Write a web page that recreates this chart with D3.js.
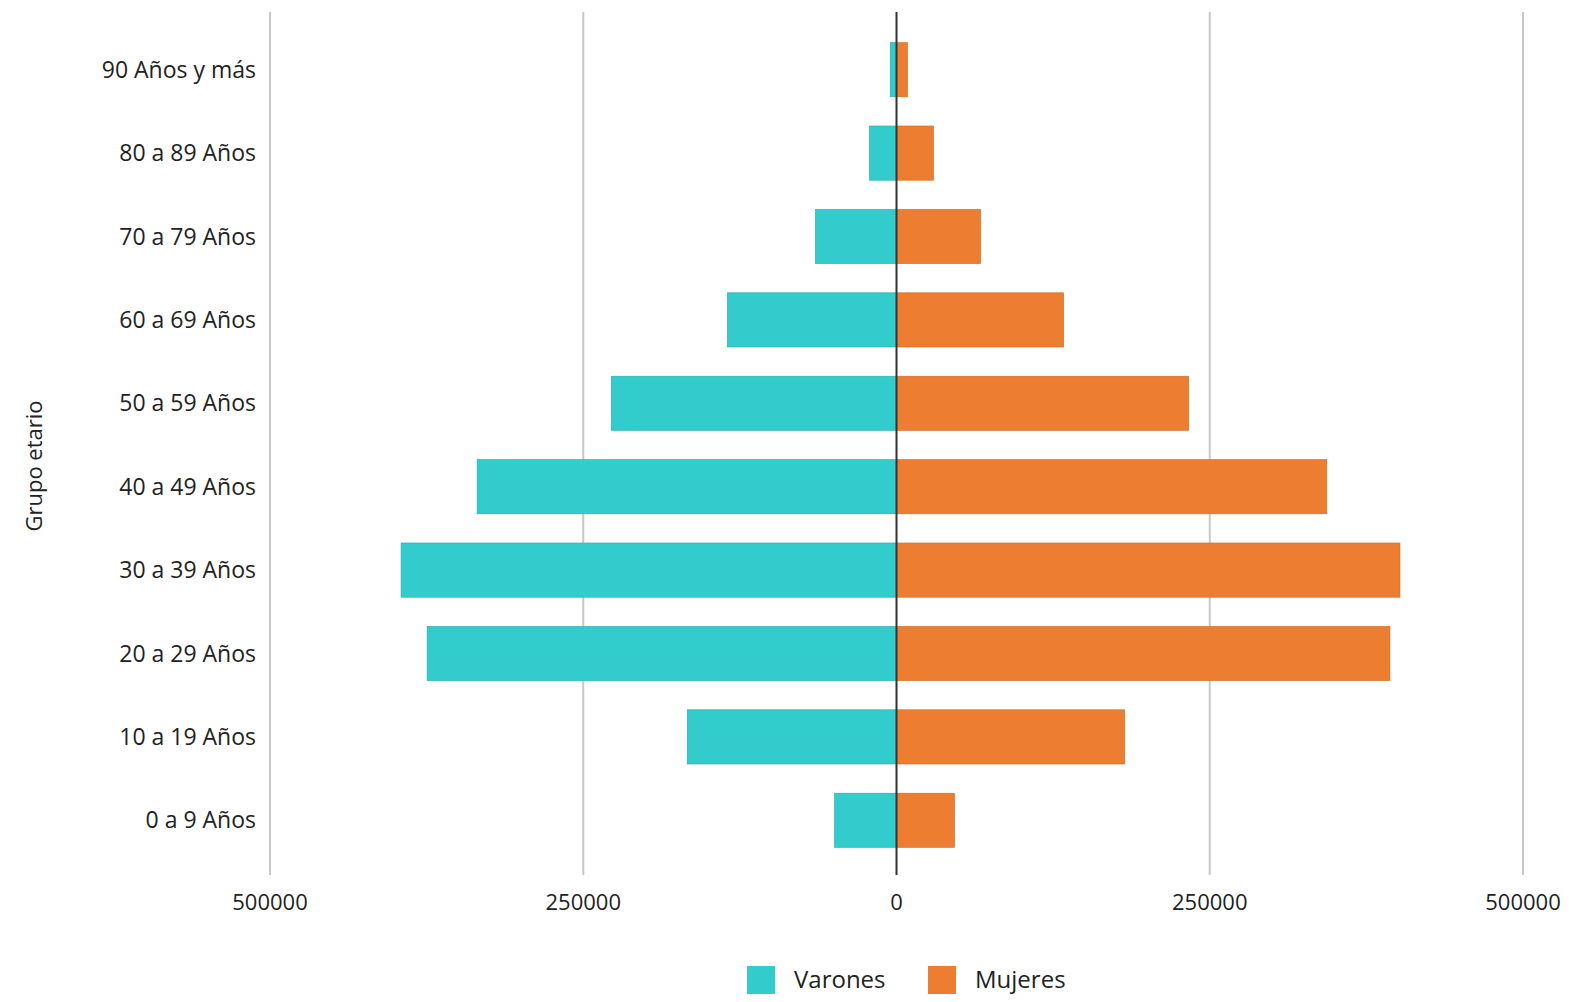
<!DOCTYPE html>
<html>
<head>
<meta charset="utf-8">
<script src="https://cdn.jsdelivr.net/npm/d3@7"></script>
<style>
  body { margin: 0; background: #fff; }
  text { font-family: "Open Sans", Lato, sans-serif; fill: #222; }
</style>
</head>
<body>
<div id="root"></div>
<script>
const groups = ['90 Años y más', '80 a 89 Años', '70 a 79 Años', '60 a 69 Años', '50 a 59 Años',
  '40 a 49 Años', '30 a 39 Años', '20 a 29 Años', '10 a 19 Años', '0 a 9 Años'];
const varones = [5000, 21600, 64700, 135000, 227600, 334700, 395400, 374600, 167000, 49500];
const mujeres = [8800, 29600, 67100, 133400, 233200, 343400, 401800, 393800, 182100, 46300];
const ticks = [-500000, -250000, 0, 250000, 500000];

const w = 1580, h = 1002;
const svg = d3.select('#root').append('svg').attr('width', w).attr('height', h);

const x = d3.scaleLinear().domain([-500000, 500000]).range([270, 1523]);
const y = d3.scaleBand().domain(groups).range([28, 862]).paddingInner(0.35).paddingOuter(0.175);

// grid
svg.selectAll('line.grid').data(ticks.filter(t => t !== 0)).enter().append('line')
  .attr('x1', d => x(d)).attr('x2', d => x(d))
  .attr('y1', 12).attr('y2', 875)
  .attr('stroke', '#c8c8c8').attr('stroke-width', 2);

// tick labels
svg.selectAll('text.tick').data(ticks).enter().append('text')
  .attr('x', d => x(d)).attr('y', 910)
  .attr('text-anchor', 'middle').attr('font-size', 22)
  .text(d => Math.abs(d));

// bars
svg.selectAll('rect.v').data(varones).enter().append('rect')
  .attr('x', d => x(-d)).attr('y', (d, i) => y(groups[i]))
  .attr('width', d => x(0) - x(-d)).attr('height', y.bandwidth())
  .attr('fill', '#33CCCC').attr('stroke', '#2aa9a9').attr('stroke-width', 0.6);
svg.selectAll('rect.m').data(mujeres).enter().append('rect')
  .attr('x', x(0)).attr('y', (d, i) => y(groups[i]))
  .attr('width', d => x(d) - x(0)).attr('height', y.bandwidth())
  .attr('fill', '#ED7D31').attr('stroke', '#c9692a').attr('stroke-width', 0.6);

// zero line
svg.append('line').attr('x1', x(0)).attr('x2', x(0)).attr('y1', 12).attr('y2', 875)
  .attr('stroke', '#333').attr('stroke-width', 2);

// y labels
svg.selectAll('text.cat').data(groups).enter().append('text')
  .attr('x', 256).attr('y', d => y(d) + y.bandwidth() / 2)
  .attr('dy', '0.35em').attr('text-anchor', 'end').attr('font-size', 23)
  .text(d => d);

svg.append('text').attr('transform', 'translate(42,466) rotate(-90)')
  .attr('text-anchor', 'middle').attr('font-size', 22).text('Grupo etario');

// legend
const legend = [['Varones', '#33CCCC', 747], ['Mujeres', '#ED7D31', 928]];
legend.forEach(([name, c, lx]) => {
  svg.append('rect').attr('x', lx).attr('y', 966).attr('width', 28).attr('height', 28).attr('fill', c);
  svg.append('text').attr('x', lx + 47).attr('y', 980).attr('dy', '0.35em')
    .attr('font-size', 24).text(name);
});
</script>
</body>
</html>
